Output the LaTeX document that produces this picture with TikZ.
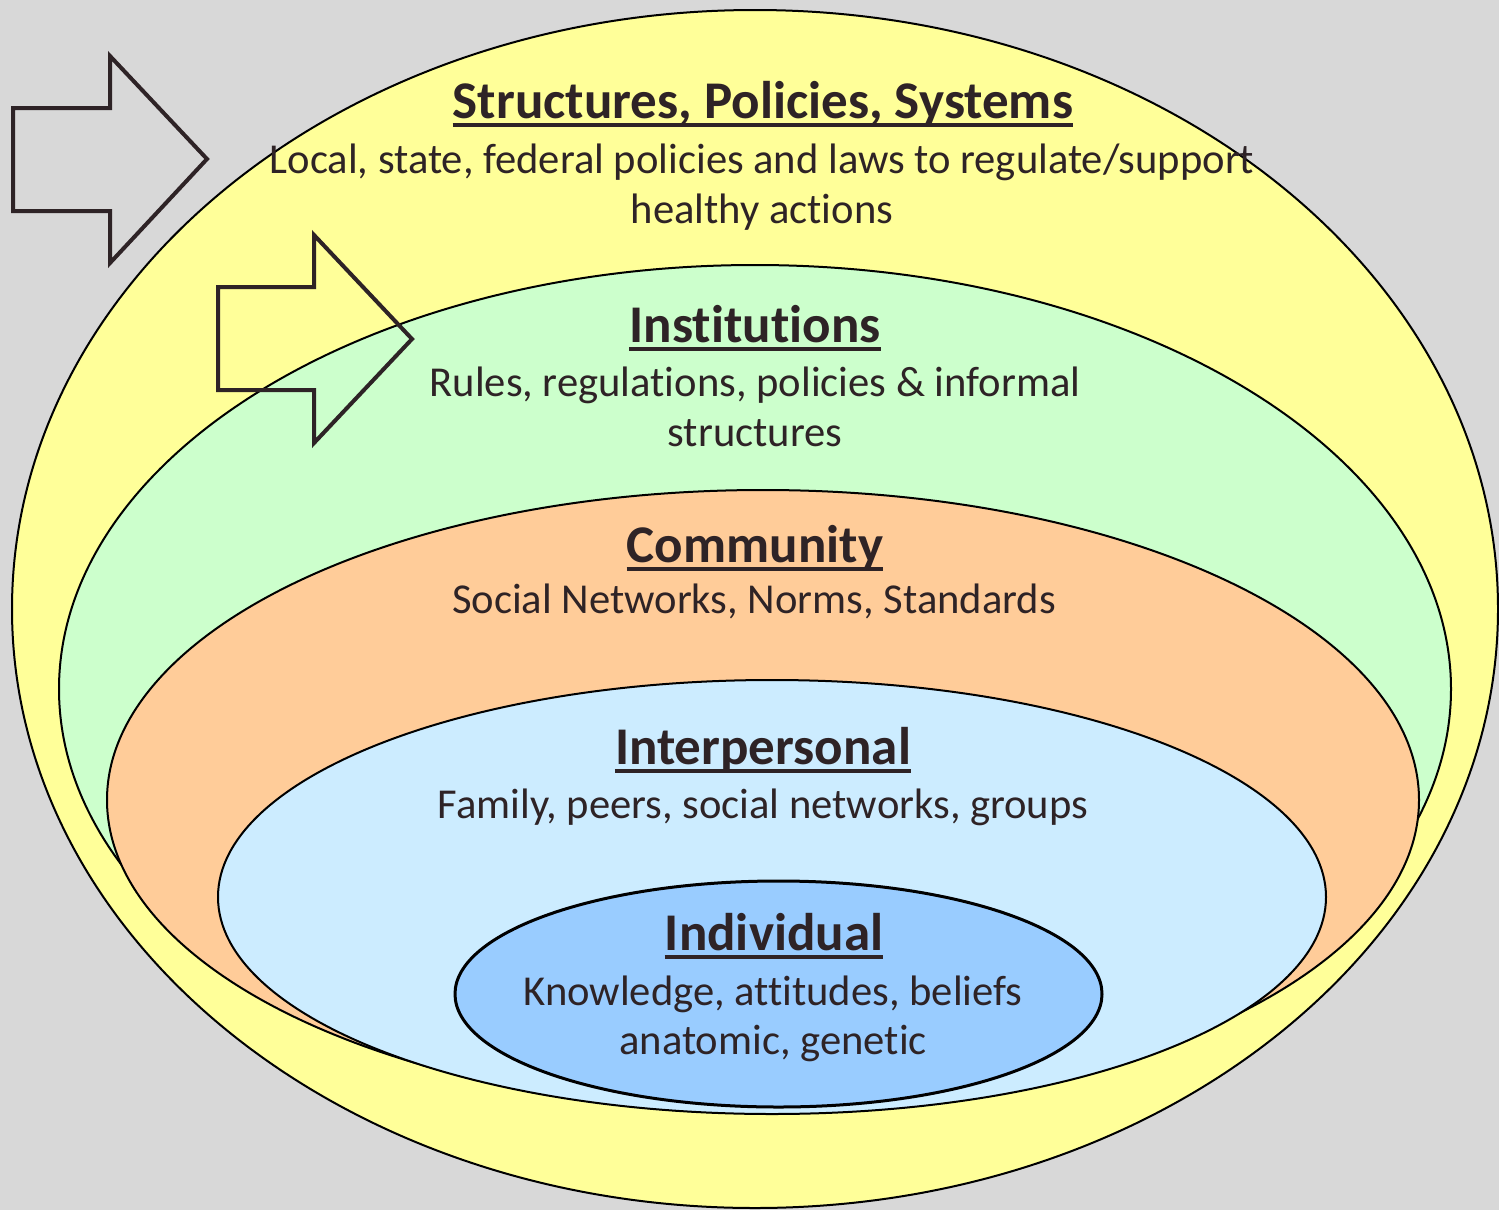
\documentclass[tikz,border=0pt]{standalone}
\usepackage{fontspec}
\setmainfont{Carlito}[Ligatures={NoCommon,NoContextual}]
\definecolor{bggray}{HTML}{D8D8D8}
\definecolor{cyellow}{HTML}{FFFF99}
\definecolor{cgreen}{HTML}{CCFFCC}
\definecolor{corange}{HTML}{FFCC99}
\definecolor{cltblue}{HTML}{CCECFF}
\definecolor{cblue}{HTML}{99CCFF}
\definecolor{ink}{HTML}{2E2326}
\tikzset{
  layer/.style={draw=black, line width=2pt},
  inner/.style={draw=black, line width=3pt},
  title/.style={anchor=base, inner sep=0pt, text=ink, font=\fontsize{53}{64}\selectfont\bfseries},
  body/.style={anchor=base, inner sep=0pt, text=ink, font=\fontsize{42.6}{52}\selectfont},
  ul/.style={draw=ink, line width=3.5pt},
  bigarrow/.style={draw=ink, line width=4pt, line join=miter}
}
\begin{document}
\begin{tikzpicture}[x=1pt,y=-1pt]
\fill[bggray] (0,0) rectangle (1499,1210);
\useasboundingbox (0,0) rectangle (1499,1210);
% layers
\draw[layer, fill=cyellow] (755,609) ellipse [x radius=743pt, y radius=599pt];
\draw[layer, fill=cgreen] (755,689) ellipse [x radius=696pt, y radius=424pt];
\draw[layer, fill=corange] (763,800) ellipse [x radius=656pt, y radius=310pt];
\draw[layer, fill=cltblue] (772,897) ellipse [x radius=554pt, y radius=217pt];
\draw[inner, fill=cblue] (778.5,994) ellipse [x radius=323.5pt, y radius=113pt];
% arrows
\draw[bigarrow] (13,108) -- (110,108) -- (110,56) -- (207,159) -- (110,263) -- (110,211) -- (13,211) -- cycle;
\draw[bigarrow] (218,287) -- (314,287) -- (314,235) -- (412,339) -- (314,443) -- (314,390) -- (218,390) -- cycle;
% texts
\node[title] (t1) at (763,118) {Structures, Policies, Systems};
\draw[ul] ([yshift=-7pt]t1.base west) -- ([yshift=-7pt]t1.base east);
\node[body] (b1a) at (762,173) {Local, state, federal policies and laws to regulate/support};
\node[body] (b1b) at (762,223) {healthy actions};

\node[title] (t2) at (755,342) {Institutions};
\draw[ul] ([yshift=-7pt]t2.base west) -- ([yshift=-7pt]t2.base east);
\node[body] (b2a) at (755,396) {Rules, regulations, policies \& informal};
\node[body] (b2b) at (755,446) {structures};

\node[title] (t3) at (755,562) {Community};
\draw[ul] ([yshift=-7pt]t3.base west) -- ([yshift=-7pt]t3.base east);
\node[body] (b3a) at (754,613) {Social Networks, Norms, Standards};

\node[title] (t4) at (763,764) {Interpersonal};
\draw[ul] ([yshift=-7pt]t4.base west) -- ([yshift=-7pt]t4.base east);
\node[body] (b4a) at (763,818) {Family, peers, social networks, groups};

\node[title] (t5) at (774,950) {Individual};
\draw[ul] ([yshift=-7pt]t5.base west) -- ([yshift=-7pt]t5.base east);
\node[body] (b5a) at (773,1005) {Knowledge, attitudes, beliefs};
\node[body] (b5b) at (773,1054) {anatomic, genetic};
\end{tikzpicture}
\end{document}
